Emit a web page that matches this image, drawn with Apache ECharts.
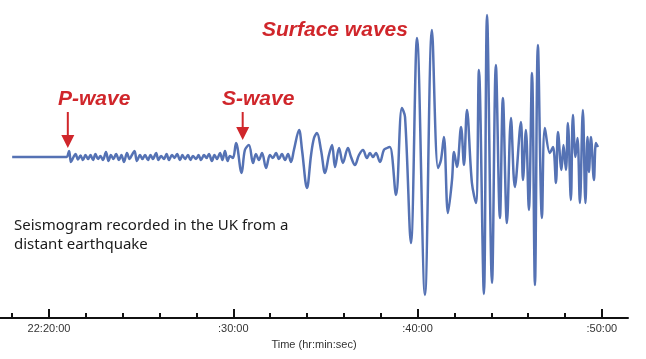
<!DOCTYPE html>
<html>
<head>
<meta charset="utf-8">
<script src="https://cdn.jsdelivr.net/npm/echarts@6/dist/echarts.min.js"></script>
<style>
html,body{margin:0;padding:0;background:#fff;}
#c{width:646px;height:359px;}
</style>
</head>
<body>
<div id="c"></div>
<script>
// Time of each sample, in minutes after 22:00:00
const sampleMinutes = [
  18.00, 20.81, 20.96, 21.09, 21.19, 21.33, 21.44, 21.57, 21.71, 21.84, 21.98, 22.12, 22.25, 22.39, 22.52, 22.66, 22.79, 22.93, 23.09, 23.23,
  23.36, 23.50, 23.64, 23.80, 23.93, 24.07, 24.23, 24.37, 24.50, 24.64, 24.77, 24.94, 25.07, 25.21, 25.37, 25.51, 25.64, 25.81, 25.94, 26.08,
  26.24, 26.38, 26.51, 26.67, 26.81, 26.95, 27.11, 27.24, 27.38, 27.54, 27.68, 27.81, 27.98, 28.11, 28.25, 28.41, 28.55, 28.68, 28.84, 28.98,
  29.12, 29.28, 29.41, 29.55, 29.69, 29.82, 29.98,
  30.15, 30.45, 30.63, 30.85, 31.07, 31.23, 31.39, 31.56, 31.78, 31.99, 32.15, 32.32, 32.48, 32.64, 32.81, 32.97, 33.13, 33.29, 33.57, 33.73,
  34.00, 34.22, 34.38, 34.54, 34.76, 34.98, 35.19, 35.36, 35.52, 35.74, 35.95, 36.22, 36.39, 36.60, 36.82, 37.04, 37.25, 37.42, 37.58, 37.74,
  37.96, 38.17, 38.34, 38.50,
  38.83, 39.15, 39.32, 39.64, 39.97, 40.40, 40.78, 41.11, 41.27, 41.43, 41.65, 41.87, 41.98, 42.14, 42.36, 42.52, 42.68, 42.95, 43.17, 43.33,
  43.60, 43.77, 44.04, 44.25, 44.47, 44.63, 44.85, 45.07, 45.28, 45.61, 45.72, 45.88, 46.04, 46.21, 46.37, 46.53, 46.75, 46.91, 47.18, 47.35,
  47.51, 47.62, 47.81, 47.92, 48.05, 48.16, 48.32, 48.43, 48.57, 48.68, 48.81, 48.97, 49.11, 49.22, 49.30, 49.41, 49.57, 49.68, 49.79
];
// Ground motion amplitude (arbitrary units)
const amplitude = [
  0, 0, 0, 6, -5, 0, 3, -2.5, 1.5, -3, 2, -2, 2, -3, 3, -2, 1, -3, 5, -4,
  2, -2, 3, -3, 2, -5, 4, -2, 2, 6, -4, 2, -2, 2, -3, 2, -2, 4, -3, 1,
  -2, 3, -3, 2, -1, 3, -3, 2, -2, 2, -3, 1, -2, 2, -3, 2, -1, 3, -4, 2,
  -2, 4, -3, 6, -4, 1, -1,
  14, -16, 7, 12, -6, 3, -3, 4, -11, 2, -1, 4, -2, 3, -3, 3, -5, 7, 27, 7,
  -31, 2, 19, 24, 7, -16, 2, 12, -10, 9, -6, 9, 0, -8, 2, 7, -1, 4, 0, 4,
  -5, 7, 9, 10,
  -38, 49, 40, -86, 119, -138, 127, -11, -3, 20, -56, -23, 5, -10, 30, -8, 47, -26, -46, 87,
  -137, 142, -126, 92, -61, 59, -66, 39, -30, 35, -23, 27, -53, 84, -128, 112, -61, 29, 4, 10,
  -26, 25, -13, 12, -13, 34, -43, 42, 0, 19, -46, 47, -46, 20, -15, 20, -23, 14, 10
];
const majorTicks = [20, 30, 40, 50];
const majorLabels = ['22:20:00', ':30:00', ':40:00', ':50:00'];
const minorTicks = [18, 22, 24, 26, 28, 32, 34, 36, 38, 42, 44, 46, 48];
const phaseNames = ['P-wave', 'S-wave'];
const phaseArrivals = [21.02, 30.51];
const surfaceLabel = 'Surface waves';
const captionLines = ['Seismogram recorded in the UK from a', 'distant earthquake'];
const axisTitle = 'Time (hr:min:sec)';

const seriesData = sampleMinutes.map((t, i) => [t, amplitude[i]]);

const chart = echarts.init(document.getElementById('c'), null, {renderer: 'canvas'});
const RED = '#d0262b';
const labelFont = 'italic bold 21px "Liberation Sans", Arial, sans-serif';

const baseAxis = {
  type: 'value', min: 17.34, max: 51.42, position: 'bottom', gridIndex: 0,
  splitLine: {show: false}
};

chart.setOption({
  animation: false,
  backgroundColor: '#ffffff',
  grid: {left: 0, right: 18, top: 0, bottom: 41, containLabel: false},
  xAxis: [
    Object.assign({}, baseAxis, {
      axisLine: {show: true, onZero: false, lineStyle: {color: '#111', width: 2}},
      axisTick: {show: true, inside: true, length: 9, customValues: majorTicks,
                 lineStyle: {color: '#111', width: 2}},
      axisLabel: {show: true, customValues: majorTicks, margin: 5,
                  formatter: v => { const k = majorTicks.indexOf(v); return k >= 0 ? majorLabels[k] : ''; },
                  color: '#333', fontSize: 11, fontFamily: '"Liberation Sans", Arial, sans-serif'},
      name: axisTitle, nameLocation: 'middle', nameGap: 21,
      nameTextStyle: {color: '#333', fontSize: 11, fontFamily: '"Liberation Sans", Arial, sans-serif'}
    }),
    Object.assign({}, baseAxis, {
      axisLine: {show: false, onZero: false},
      axisTick: {show: true, inside: true, length: 5, customValues: minorTicks,
                 lineStyle: {color: '#111', width: 2}},
      axisLabel: {show: false}
    })
  ],
  yAxis: {type: 'value', min: -161, max: 157, show: false, splitLine: {show: false}},
  series: [{
    type: 'line', xAxisIndex: 0, data: seriesData, showSymbol: false, smooth: 0.35,
    lineStyle: {color: '#5572b4', width: 2.5}, z: 3
  }]
});

const arrowTop = [112, 112];
const arrowTip = [148, 140];
const phaseTextLeft = [58, 222];
const graphics = [];
phaseArrivals.forEach((t, i) => {
  const px = chart.convertToPixel({xAxisIndex: 0}, t);
  const headTop = arrowTip[i] - 13;
  graphics.push({type: 'line', shape: {x1: px, y1: arrowTop[i], x2: px, y2: headTop + 1},
                 style: {stroke: RED, lineWidth: 2}, z: 10});
  graphics.push({type: 'polygon', shape: {points: [[px - 6.5, headTop], [px + 6.5, headTop], [px, arrowTip[i]]]},
                 style: {fill: RED}, z: 10});
  graphics.push({type: 'text', x: phaseTextLeft[i], y: 99,
                 style: {text: phaseNames[i], font: labelFont, fill: RED,
                         textAlign: 'left', textVerticalAlign: 'middle', align: 'left', verticalAlign: 'middle'}, z: 10});
});
graphics.push({type: 'text', x: 262, y: 30,
               style: {text: surfaceLabel, font: labelFont, fill: RED,
                       textAlign: 'left', textVerticalAlign: 'middle', align: 'left', verticalAlign: 'middle'}, z: 10});
captionLines.forEach((line, i) => {
  graphics.push({type: 'text', x: 14, y: 226 + i * 19,
                 style: {text: line, font: '15px "Comic Sans MS", "Noto Sans", sans-serif', fill: '#1a1a1a',
                         textAlign: 'left', textVerticalAlign: 'middle', align: 'left', verticalAlign: 'middle'}, z: 10});
});
chart.setOption({graphic: graphics});
</script>
</body>
</html>
